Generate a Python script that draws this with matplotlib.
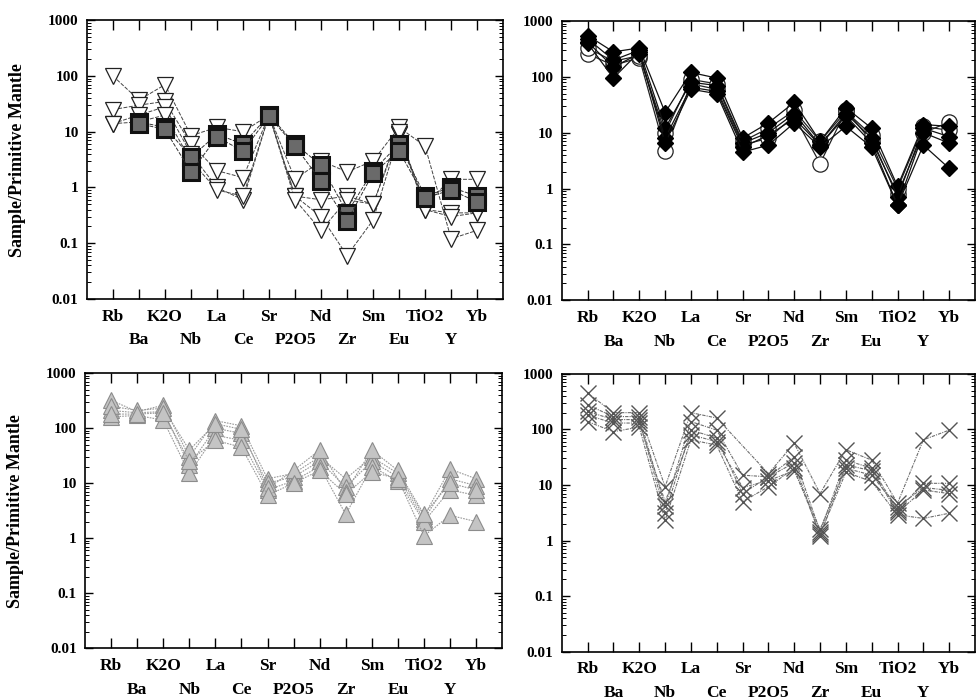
import numpy as np
import matplotlib
matplotlib.use("Agg")
import matplotlib.pyplot as plt
from matplotlib.ticker import LogLocator, NullFormatter, FixedLocator

plt.rcParams['font.family'] = ['Liberation Serif', 'DejaVu Serif']
plt.rcParams['font.weight'] = 'bold'

elements = ['Rb', 'Ba', 'K2O', 'Nb', 'La', 'Ce', 'Sr', 'P2O5',
            'Nd', 'Zr', 'Sm', 'Eu', 'TiO2', 'Y', 'Yb']

# top left: open triangles and grey squares
tl_tri = [
    [100, 37, 70, 8.5, 12, 10, 20, 1.4, 3.0, 1.9, 3.0, 12, 5.5, 0.12, 0.17],
    [25, 30, 35, 6.0, 2.0, 1.5, 20, 0.7, 0.6, 0.7, 0.5, 9.0, 0.4, 0.35, 0.35],
    [14, 20, 28, 4.0, 1.0, 0.6, 20, 0.7, 0.3, 0.06, 0.26, 9.0, 0.5, 1.4, 1.4],
    [14, 15, 20, 3.0, 0.9, 0.7, 20, 0.6, 0.17, 0.6, 0.5, 10, 0.4, 0.3, 0.35],
]
tl_sq = [
    [np.nan, 15, 12, 3.5, 9.0, 6.0, 20, 6.0, 2.5, 0.35, 2.0, 6.0, 0.7, 1.0, 0.7],
    [np.nan, 14, 11, 1.9, 8.0, 4.5, 19, 5.5, 1.3, 0.25, 1.8, 4.5, 0.65, 0.9, 0.55],
]

# top right: black diamonds and open circles
tr_dia = [
    [550, 280, 330, 23, 120, 95, 8.0, 15, 35, 7.0, 28, 12, 1.1, 14, 13],
    [480, 200, 300, 12, 80, 70, 6.5, 10, 22, 6.0, 22, 8.0, 0.7, 12, 8.5],
    [420, 150, 260, 8.0, 65, 55, 5.5, 9.0, 18, 6.0, 20, 6.5, 0.5, 10, 6.5],
    [400, 95, 280, 6.5, 60, 50, 4.5, 6.0, 15, 5.5, 13, 5.5, 0.5, 6.0, 2.3],
]
tr_circ = [
    [260, 160, 220, 4.8, 75, 60, 6.0, 8.0, 20, 2.8, 25, 7.0, 0.8, 10, 15.5],
    [330, 190, 240, 10, 90, 75, 7.0, 12, 25, 7.0, 24, 9.0, 1.0, 13, 11],
]

# bottom left: grey triangles
bl_tri = [
    [320, 200, 260, 30, 137, 110, 12, 15, 30, 12, 30, 15, 2.5, 18, 12],
    [210, 190, 200, 21, 100, 80, 10, 13, 25, 8.5, 25, 13, 2.2, 12, 9.0],
    [160, 170, 140, 15, 74, 60, 7.5, 11, 20, 2.7, 20, 11, 2.0, 7.5, 6.0],
    [250, 210, 230, 40, 120, 95, 8.0, 17, 40, 7.0, 40, 17, 2.7, 10, 7.5],
    [180, 180, 190, 25, 60, 45, 6.0, 10, 17, 6.3, 16, 12, 1.1, 2.6, 2.0],
]

# bottom right: crosses
br_x = [
    [450, 200, 200, 9.3, 200, 160, np.nan, 16, 56, 7.0, 43, 28, 4.7, 65, 97],
    [275, 170, 170, 4.1, 138, 97, 15, 14, 32, 1.45, 28, 20, 3.5, 10.7, 10.7],
    [210, 150, 150, 3.1, 97, 70, 7.0, 14, 25, 1.2, 23, 18, 3.2, 8.1, 7.0],
    [138, 91, 110, 2.3, 65, 52, 5.0, 9.3, 20, 1.3, 17, 11.5, 2.9, 2.5, 3.1],
    [180, 130, 130, 5.0, 80, 60, 9.0, 12, 18, 1.6, 20, 15, 4.0, 9.0, 8.0],
]

x = np.arange(1, len(elements) + 1)


def draw(ax, rows, **kw):
    for r in rows:
        r = np.array(r, dtype=float)
        ok = ~np.isnan(r)
        ax.plot(x[ok], r[ok], **kw)


def style(ax, ylabel=False):
    ax.set_yscale('log')
    ax.set_ylim(0.01, 1000)
    ax.set_xlim(0, 16)
    ax.yaxis.set_major_locator(FixedLocator([0.01, 0.1, 1, 10, 100, 1000]))
    ax.set_yticklabels(['0.01', '0.1', '1', '10', '100', '1000'])
    ax.yaxis.set_minor_locator(LogLocator(base=10, subs=np.arange(2, 10), numticks=20))
    ax.yaxis.set_minor_formatter(NullFormatter())
    ax.set_xticks(x)
    ax.set_xticklabels(elements)
    ax.tick_params(axis='both', which='both', direction='in', top=True, right=True)
    ax.tick_params(axis='x', which='major', length=7, width=1, labelsize=12.5, pad=7)
    ax.tick_params(axis='y', which='major', length=6, width=1, labelsize=11, pad=6)
    ax.tick_params(axis='y', which='minor', length=3, width=0.7)
    # second row of element names
    for i, t in enumerate(ax.xaxis.get_major_ticks()):
        if i % 2 == 1:
            t.set_pad(24)
    for s in ax.spines.values():
        s.set_linewidth(1.2)
    if ylabel:
        ax.set_ylabel('Sample/Primitive Mantle', fontsize=13, fontweight='bold', labelpad=16)


fig = plt.figure(figsize=(9.77, 7.0), dpi=100)
ax1 = fig.add_axes([0.089, 0.573, 0.426, 0.398])
ax2 = fig.add_axes([0.575, 0.571, 0.423, 0.399])
ax3 = fig.add_axes([0.087, 0.074, 0.427, 0.393])
ax4 = fig.add_axes([0.575, 0.069, 0.423, 0.397])

draw(ax1, tl_tri, color='#444444', lw=0.7, ls=(0, (4, 1.5)), marker='v',
     ms=11, mfc='white', mec='#222222', mew=0.9)
draw(ax1, tl_sq, color='#333333', lw=0.7, ls=(0, (4, 1.5)), marker='s',
     ms=11, mfc='#6a6a6a', mec='#111111', mew=2.2)

draw(ax2, tr_circ, color='#222222', lw=0.9, marker='o', ms=11,
     mfc='white', mec='#222222', mew=0.9)
draw(ax2, tr_dia, color='#111111', lw=0.9, marker='D', ms=8.5,
     mfc='black', mec='black')

draw(ax3, bl_tri, color='#9a9a9a', lw=0.8, ls=(0, (1.5, 1)), marker='^',
     ms=11, mfc='#c4c4c4', mec='#8c8c8c', mew=0.8)

draw(ax4, br_x, color='#6f6f6f', lw=0.8, ls=(0, (3, 1, 1, 1)), marker='x',
     ms=12, mec='#555555', mew=1.0)

style(ax1, ylabel=True)
style(ax2)
style(ax3, ylabel=True)
style(ax4)

fig.savefig('out.png', dpi=100, facecolor='white')
